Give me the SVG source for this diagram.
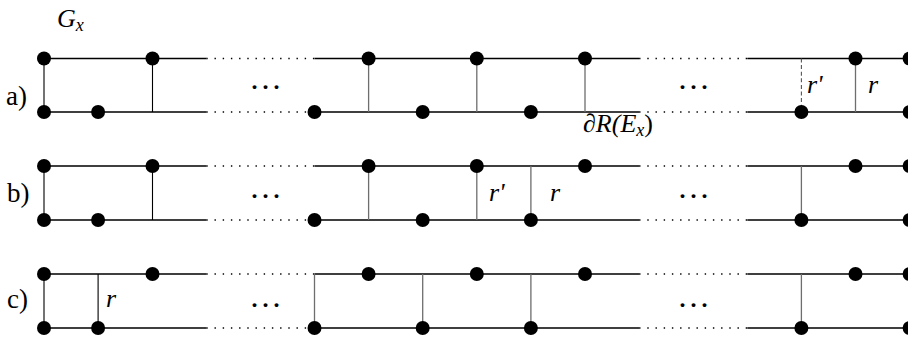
<svg xmlns="http://www.w3.org/2000/svg" width="908" height="339" viewBox="0 0 908 339">
<style>
.lbl{font-family:'Liberation Serif',serif;fill:#000}
</style>
<text x="57" y="27" font-family="Liberation Serif" font-size="26" font-style="italic">G<tspan font-size="18" dy="4">x</tspan></text>
<text x="6" y="105" font-family="Liberation Serif" font-size="27">a)</text>
<text x="7" y="202" font-family="Liberation Serif" font-size="27">b)</text>
<text x="7" y="308" font-family="Liberation Serif" font-size="27">c)</text>
<text x="268" y="89" font-family="Liberation Serif" font-size="24" font-weight="bold" text-anchor="middle" letter-spacing="5">...</text>
<text x="696" y="89" font-family="Liberation Serif" font-size="24" font-weight="bold" text-anchor="middle" letter-spacing="5">...</text>
<text x="268" y="198" font-family="Liberation Serif" font-size="24" font-weight="bold" text-anchor="middle" letter-spacing="5">...</text>
<text x="696" y="198" font-family="Liberation Serif" font-size="24" font-weight="bold" text-anchor="middle" letter-spacing="5">...</text>
<text x="268" y="307" font-family="Liberation Serif" font-size="24" font-weight="bold" text-anchor="middle" letter-spacing="5">...</text>
<text x="696" y="307" font-family="Liberation Serif" font-size="24" font-weight="bold" text-anchor="middle" letter-spacing="5">...</text>
<text x="807" y="93" font-family="Liberation Serif" font-size="26" font-style="italic">r'</text>
<text x="868" y="93" font-family="Liberation Serif" font-size="26" font-style="italic">r</text>
<text x="583" y="132" font-family="Liberation Serif" font-size="26" font-style="italic">&#x2202;R(E<tspan font-size="18" dy="4">x</tspan><tspan dy="-4" font-style="normal">)</tspan></text>
<text x="489" y="201" font-family="Liberation Serif" font-size="26" font-style="italic">r'</text>
<text x="550" y="201" font-family="Liberation Serif" font-size="26" font-style="italic">r</text>
<text x="106" y="307" font-family="Liberation Serif" font-size="26" font-style="italic">r</text>

<g id="connectors" fill="none">
  <g stroke="#000" stroke-width="1.3">
    <path d="M44 58.5H206.3M314.5 58.5H639.1M747.3 58.5H908M44 112H206.3M314.5 112H639.1M747.3 112H908"/>
    <path d="M44 166H206.3M314.5 166H639.1M747.3 166H908M44 220H206.3M314.5 220H639.1M747.3 220H908"/>
    <path d="M44 274H206.3M314.5 274H639.1M747.3 274H908M44 328H206.3M314.5 328H639.1M747.3 328H908"/>
  </g>
  <g stroke="#000" stroke-width="1.4" stroke-dasharray="1.4 6.8">
    <path d="M206.3 58.5H314.5M639.1 58.5H747.3M206.3 112H314.5M639.1 112H747.3"/>
    <path d="M206.3 166H314.5M639.1 166H747.3M206.3 220H314.5M639.1 220H747.3"/>
    <path d="M206.3 274H314.5M639.1 274H747.3M206.3 328H314.5M639.1 328H747.3"/>
  </g>
  <g stroke="#000" stroke-width="1.1">
    <path d="M44 58.5V112M152.5 58.5V112"/>
    <path d="M44 166V220M152.5 166V220"/>
    <path d="M44 274V328M98.1 274V328"/>
  </g>
  <g stroke="#6e6e6e" stroke-width="1.3">
    <path d="M368.6 58.5V112M476.8 58.5V112M585 58.5V112M855.5 58.5V112"/>
    <path d="M368.6 166V220M476.8 166V220M530.9 166V220M801.4 166V220"/>
    <path d="M314.5 274V328M422.7 274V328M530.9 274V328M801.4 274V328"/>
  </g>
  <path stroke="#555" stroke-width="1.1" stroke-dasharray="4 2.6" d="M801.4 58.5V112"/>
</g>

<g fill="#000">
<g id="a-t0"><circle cx="44" cy="58.5" r="7"/></g>
<g id="a-t1"><circle cx="152.5" cy="58.5" r="7"/></g>
<g id="a-t2"><circle cx="368.6" cy="58.5" r="7"/></g>
<g id="a-t3"><circle cx="476.8" cy="58.5" r="7"/></g>
<g id="a-t4"><circle cx="585" cy="58.5" r="7"/></g>
<g id="a-t5"><circle cx="855.5" cy="58.5" r="7"/></g>
<g id="a-t6"><circle cx="909.6" cy="58.5" r="7"/></g>
<g id="a-b0"><circle cx="44" cy="112" r="7"/></g>
<g id="a-b1"><circle cx="98.1" cy="112" r="7"/></g>
<g id="a-b2"><circle cx="314.5" cy="112" r="7"/></g>
<g id="a-b3"><circle cx="422.7" cy="112" r="7"/></g>
<g id="a-b4"><circle cx="530.9" cy="112" r="7"/></g>
<g id="a-b5"><circle cx="801.4" cy="112" r="7"/></g>
<g id="a-b6"><circle cx="909.6" cy="112" r="7"/></g>
<g id="b-t0"><circle cx="44" cy="166" r="7"/></g>
<g id="b-t1"><circle cx="152.5" cy="166" r="7"/></g>
<g id="b-t2"><circle cx="368.6" cy="166" r="7"/></g>
<g id="b-t3"><circle cx="476.8" cy="166" r="7"/></g>
<g id="b-t4"><circle cx="585" cy="166" r="7"/></g>
<g id="b-t5"><circle cx="855.5" cy="166" r="7"/></g>
<g id="b-t6"><circle cx="909.6" cy="166" r="7"/></g>
<g id="b-b0"><circle cx="44" cy="220" r="7"/></g>
<g id="b-b1"><circle cx="98.1" cy="220" r="7"/></g>
<g id="b-b2"><circle cx="314.5" cy="220" r="7"/></g>
<g id="b-b3"><circle cx="422.7" cy="220" r="7"/></g>
<g id="b-b4"><circle cx="530.9" cy="220" r="7"/></g>
<g id="b-b5"><circle cx="801.4" cy="220" r="7"/></g>
<g id="b-b6"><circle cx="909.6" cy="220" r="7"/></g>
<g id="c-t0"><circle cx="44" cy="274" r="7"/></g>
<g id="c-t1"><circle cx="152.5" cy="274" r="7"/></g>
<g id="c-t2"><circle cx="368.6" cy="274" r="7"/></g>
<g id="c-t3"><circle cx="476.8" cy="274" r="7"/></g>
<g id="c-t4"><circle cx="585" cy="274" r="7"/></g>
<g id="c-t5"><circle cx="855.5" cy="274" r="7"/></g>
<g id="c-t6"><circle cx="909.6" cy="274" r="7"/></g>
<g id="c-b0"><circle cx="44" cy="328" r="7"/></g>
<g id="c-b1"><circle cx="98.1" cy="328" r="7"/></g>
<g id="c-b2"><circle cx="314.5" cy="328" r="7"/></g>
<g id="c-b3"><circle cx="422.7" cy="328" r="7"/></g>
<g id="c-b4"><circle cx="530.9" cy="328" r="7"/></g>
<g id="c-b5"><circle cx="801.4" cy="328" r="7"/></g>
<g id="c-b6"><circle cx="909.6" cy="328" r="7"/></g>
</g>
</svg>
